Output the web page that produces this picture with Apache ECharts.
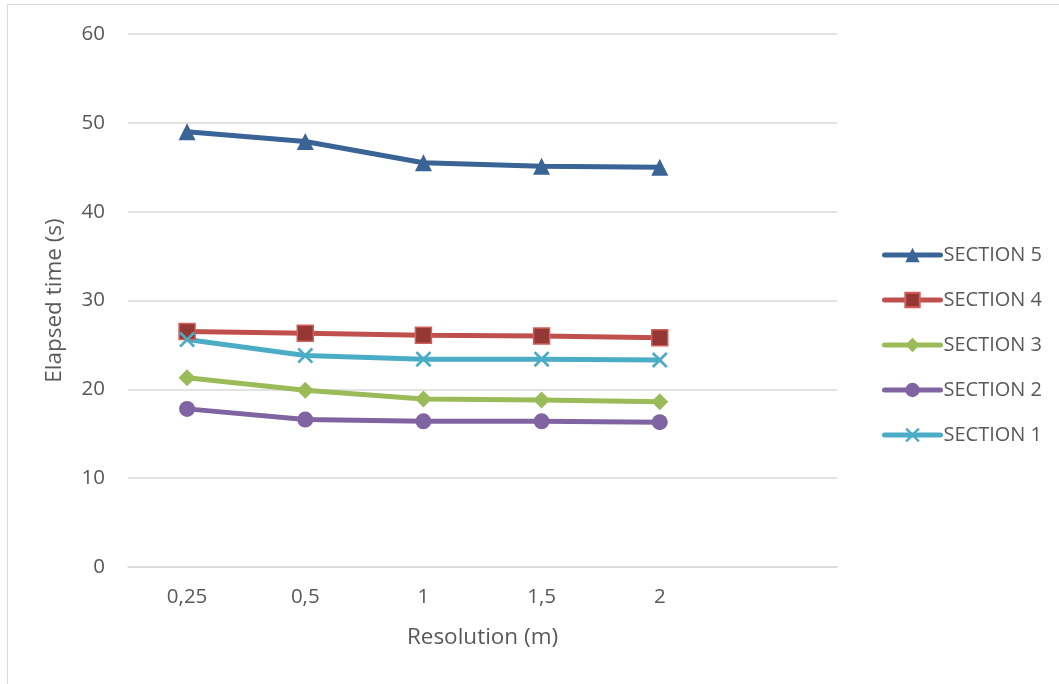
<!DOCTYPE html>
<html>
<head>
<meta charset="utf-8">
<script src="https://cdn.jsdelivr.net/npm/echarts@6/dist/echarts.min.js"></script>
<style>
  html, body { margin: 0; padding: 0; background: #fff; }
  #frame { position: absolute; left: 7px; top: 4px; width: 1100px; height: 720px;
           border-left: 1.5px solid #d9d9d9; border-top: 1.5px solid #d9d9d9; }
  #chart { position: absolute; left: 0; top: 0; width: 1059px; height: 684px; }
</style>
</head>
<body>
<div id="frame"></div>
<div id="chart"></div>
<script>
// Resolution categories (last slot is left empty, as in the original layout)
const categories = ['0,25', '0,5', '1', '1,5', '2', ''];
const yTicks = { min: 0, max: 60, interval: 10 };

const section5 = [49.0, 47.9, 45.5, 45.1, 45.0];
const section4 = [26.5, 26.3, 26.1, 26.0, 25.8];
const section3 = [21.3, 19.9, 18.9, 18.8, 18.6];
const section2 = [17.8, 16.6, 16.4, 16.4, 16.3];
const section1 = [25.6, 23.8, 23.4, 23.4, 23.3];

const crossPath = 'path://M0,1.2L1.2,0L5,3.8L8.8,0L10,1.2L6.2,5L10,8.8L8.8,10L5,6.2L1.2,10L0,8.8L3.8,5Z';
const font = 'Open Sans';
const textColor = '#595959';

function makeSeries(name, data, lineColor, symbol, size, fill, border) {
  return {
    name: name,
    type: 'line',
    data: data,
    symbol: symbol,
    symbolSize: size,
    lineStyle: { color: lineColor, width: 5, cap: 'round' },
    itemStyle: { color: fill, borderColor: border || fill, borderWidth: border ? 1.5 : 0 },
    emphasis: { disabled: true },
    z: 2
  };
}

const chart = echarts.init(document.getElementById('chart'), null, { renderer: 'canvas' });
chart.setOption({
  animation: false,
  backgroundColor: 'transparent',
  grid: { left: 128, right: 222, top: 34, bottom: 117 },
  legend: {
    orient: 'vertical',
    left: 877,
    top: 239,
    itemGap: 23,
    itemWidth: 56,
    itemHeight: 18,
    lineStyle: { width: 5, cap: 'round' },
    textStyle: { fontFamily: font, fontSize: 20, lineHeight: 22, color: textColor, padding: [0, 0, 0, -2] },
    data: ['SECTION 5', 'SECTION 4', 'SECTION 3', 'SECTION 2', 'SECTION 1']
  },
  xAxis: {
    type: 'category',
    data: categories,
    boundaryGap: true,
    name: 'Resolution (m)',
    nameLocation: 'middle',
    nameGap: 59,
    nameTextStyle: { fontFamily: font, fontSize: 22.5, color: textColor },
    axisLine: { lineStyle: { color: '#d9d9d9', width: 1.5 } },
    axisTick: { show: false },
    axisLabel: { fontFamily: font, fontSize: 20.5, color: textColor, margin: 20 }
  },
  yAxis: {
    type: 'value',
    min: yTicks.min,
    max: yTicks.max,
    interval: yTicks.interval,
    name: 'Elapsed time (s)',
    nameLocation: 'middle',
    nameGap: 62,
    nameTextStyle: { fontFamily: font, fontSize: 22.5, color: textColor },
    axisLine: { show: false },
    axisTick: { show: false },
    splitLine: { lineStyle: { color: '#d9d9d9', width: 1.5 } },
    axisLabel: { fontFamily: font, fontSize: 20.5, color: textColor, margin: 23 }
  },
  series: [
    makeSeries('SECTION 5', section5, '#3A6396', 'triangle', 17, '#3A6396'),
    makeSeries('SECTION 4', section4, '#C0504D', 'rect', 16, '#953735', '#D0605C'),
    makeSeries('SECTION 3', section3, '#9BBB59', 'diamond', 17, '#9BBB59'),
    makeSeries('SECTION 2', section2, '#8064A2', 'circle', 16, '#8064A2'),
    makeSeries('SECTION 1', section1, '#4BACC6', crossPath, 16, '#4BACC6')
  ]
});
</script>
</body>
</html>
